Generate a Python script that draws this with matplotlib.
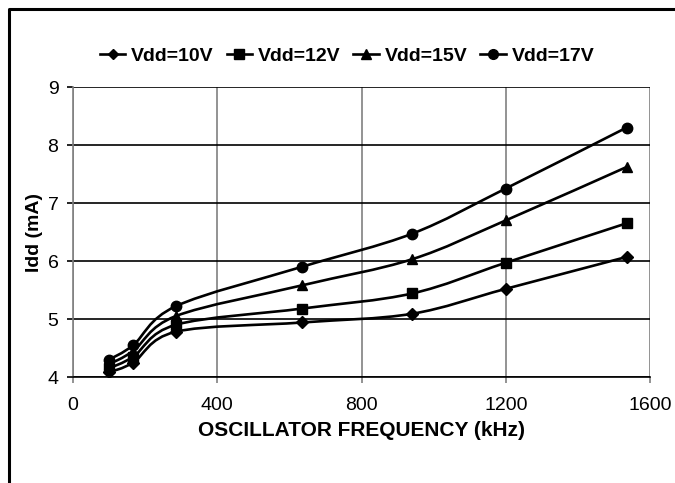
import matplotlib.pyplot as plt
import numpy as np
from matplotlib.path import Path
from matplotlib.patches import PathPatch
from matplotlib.lines import Line2D

plt.rcParams['font.family'] = ['Liberation Sans', 'DejaVu Sans']

freq = [100, 167, 285, 635, 940, 1200, 1535]
idd_10v = [4.08, 4.25, 4.78, 4.94, 5.09, 5.52, 6.07]
idd_12v = [4.15, 4.35, 4.90, 5.18, 5.44, 5.97, 6.65]
idd_15v = [4.22, 4.45, 5.05, 5.58, 6.03, 6.70, 7.62]
idd_17v = [4.30, 4.55, 5.22, 5.90, 6.47, 7.25, 8.30]

series = [
    ('Vdd=10V', idd_10v, 'D'),
    ('Vdd=12V', idd_12v, 's'),
    ('Vdd=15V', idd_15v, '^'),
    ('Vdd=17V', idd_17v, 'o'),
]
marker_size = {'D': 6, 's': 7, '^': 7.5, 'o': 7.5}


def smooth_path(x, y, t=1 / 6):
    """Excel-like smoothed line as cubic bezier segments through the points."""
    x = np.asarray(x, float)
    y = np.asarray(y, float)
    n = len(x)
    verts = [(x[0], y[0])]
    codes = [Path.MOVETO]
    for i in range(n - 1):
        p0 = i - 1 if i > 0 else i
        p3 = i + 2 if i + 2 < n else i + 1
        c1 = (x[i] + (x[i + 1] - x[p0]) * t, y[i] + (y[i + 1] - y[p0]) * t)
        c2 = (x[i + 1] - (x[p3] - x[i]) * t, y[i + 1] - (y[p3] - y[i]) * t)
        verts += [c1, c2, (x[i + 1], y[i + 1])]
        codes += [Path.CURVE4] * 3
    return Path(verts, codes)


fig = plt.figure(figsize=(6.75, 4.83), dpi=100)
ax = fig.add_axes([73 / 675, 1 - 377 / 483, 577 / 675, 290 / 483])

handles = []
for label, vals, mk in series:
    patch = PathPatch(smooth_path(freq, vals), facecolor='none',
                      edgecolor='black', lw=1.9, zorder=3)
    ax.add_patch(patch)
    ax.plot(freq, vals, linestyle='none', marker=mk, color='black',
            markersize=marker_size[mk], zorder=4)
    handles.append(Line2D([], [], color='black', lw=1.9, marker=mk,
                          markersize=marker_size[mk] - 0.5, label=label))

ax.set_xlim(0, 1600)
ax.set_ylim(4, 9)
ax.set_xticks(range(0, 1601, 400))
ax.set_yticks(range(4, 10))
ax.xaxis.grid(True, color='#808080', lw=1.2)
ax.yaxis.grid(True, color='black', lw=1.2)
ax.set_axisbelow(True)
for side in ['top', 'right']:
    ax.spines[side].set_visible(False)
ax.spines['left'].set_color('#808080')
ax.spines['left'].set_linewidth(1.2)
ax.spines['bottom'].set_color('black')
ax.spines['bottom'].set_linewidth(1.2)
ax.tick_params(axis='x', length=4.5, width=1.2, color='#808080',
               labelsize=14, pad=10)
ax.tick_params(axis='y', length=4.5, width=1.2, color='black',
               labelsize=14, pad=6)

ax.set_xlabel('OSCILLATOR FREQUENCY (kHz)', fontsize=15, fontweight='bold',
              labelpad=5)
ax.set_ylabel('Idd (mA)', fontsize=14, fontweight='bold', labelpad=3)

fig.legend(handles=handles, loc='center', bbox_to_anchor=(347 / 675, 1 - 56 / 483),
           ncol=4, frameon=False, handlelength=1.3, handletextpad=0.3,
           columnspacing=0.67, prop={'weight': 'bold', 'size': 14})

# outer frame, only top and left edges visible
fig.add_artist(Line2D([9 / 675, 9 / 675, 1.05], [-0.05, 1 - 9 / 483, 1 - 9 / 483],
                      transform=fig.transFigure, color='black', lw=2.2))

fig.savefig('out.png', dpi=100)
